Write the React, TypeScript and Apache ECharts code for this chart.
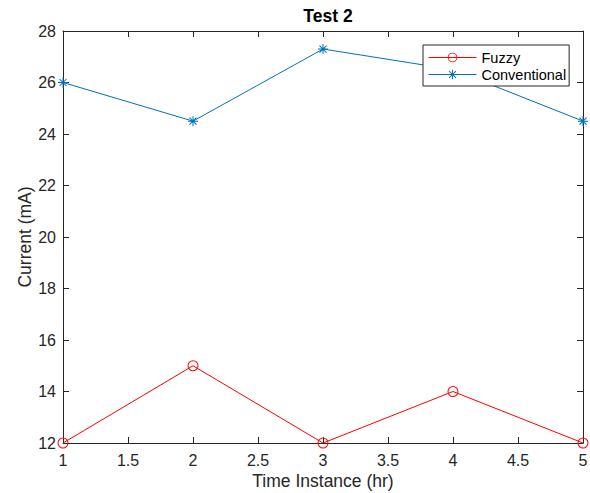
import React, { useEffect, useRef } from "react";
import * as echarts from "echarts";

const timeInstances = [1, 2, 3, 4, 5];
const fuzzyCurrent = [12, 15, 12, 14, 12];
const conventionalCurrent = [26, 24.5, 27.3, 26.5, 24.5];
const seriesNames = ["Fuzzy", "Conventional"];
const chartTitle = "Test 2";
const xName = "Time Instance (hr)";
const yName = "Current (mA)";

const FONT = "'Liberation Sans', Arial, Helvetica, sans-serif";
const AX = "#262626";

const ringPath =
  "path://M0,5A5,5 0 1,1 10,5A5,5 0 1,1 0,5ZM0.9,5A4.1,4.1 0 1,0 9.1,5A4.1,4.1 0 1,0 0.9,5Z";
const starPath =
  "path://M4.5,0L5.5,0L5.5,10L4.5,10ZM0,4.5L10,4.5L10,5.5L0,5.5ZM1.85,1.15L8.85,8.15L8.15,8.85L1.15,1.85ZM1.15,8.15L8.15,1.15L8.85,1.85L1.85,8.85Z";

export default function App() {
  const ref = useRef<HTMLDivElement>(null);
  useEffect(() => {
    if (!ref.current) return;
    const chart = echarts.init(ref.current, undefined, { renderer: "svg" });
    const axisCommon = {
      type: "value" as const,
      axisLine: { show: true, onZero: false, lineStyle: { color: AX, width: 1 } },
      axisTick: { show: true, inside: true, length: 6, lineStyle: { color: AX, width: 1 } },
      splitLine: { show: false },
    };
    chart.setOption({
      animation: false,
      backgroundColor: "#ffffff",
      title: {
        text: chartTitle,
        left: 323,
        top: 2,
        textAlign: "center",
        textStyle: { fontFamily: FONT, fontSize: 17.5, fontWeight: "bold", color: "#000" },
      },
      grid: { left: 63, right: 7, top: 31, bottom: 50, containLabel: false, outerBoundsMode: "none" },
      legend: {
        data: seriesNames,
        orient: "vertical",
        left: 423,
        top: 45,
        padding: [4, 3, 3, 5],
        itemWidth: 48,
        itemHeight: 12,
        itemGap: 0,
        backgroundColor: "#ffffff",
        borderColor: AX,
        borderWidth: 1,
        borderRadius: 0,
        lineStyle: { width: 1 },
        textStyle: { fontFamily: FONT, fontSize: 14.5, color: "#000", lineHeight: 17 },
      },
      xAxis: [
        {
          ...axisCommon,
          position: "bottom",
          min: 1,
          max: 5,
          interval: 0.5,
          name: xName,
          nameLocation: "middle",
          nameGap: 29,
          nameMoveOverlap: false,
          nameTextStyle: { fontFamily: FONT, fontSize: 17.5, color: AX },
          axisLabel: { fontFamily: FONT, fontSize: 16, color: AX, margin: 9 },
        },
        {
          ...axisCommon,
          position: "top",
          min: 1,
          max: 5,
          interval: 0.5,
          axisLabel: { show: false },
        },
      ],
      yAxis: [
        {
          ...axisCommon,
          position: "left",
          min: 12,
          max: 28,
          interval: 2,
          name: yName,
          nameLocation: "middle",
          nameRotate: 90,
          nameGap: 29,
          nameMoveOverlap: false,
          nameTextStyle: { fontFamily: FONT, fontSize: 17.5, color: AX },
          axisLabel: { fontFamily: FONT, fontSize: 16, color: AX, margin: 7 },
        },
        {
          ...axisCommon,
          position: "right",
          min: 12,
          max: 28,
          interval: 2,
          axisLabel: { show: false },
        },
      ],
      series: [
        {
          name: seriesNames[0],
          type: "line",
          data: timeInstances.map((t, i) => [t, fuzzyCurrent[i]]),
          symbol: ringPath,
          symbolSize: 11,
          clip: false,
          color: "#ff0000",
          lineStyle: { color: "#ff0000", width: 1 },
          itemStyle: { color: "#ff0000" },
          emphasis: { disabled: true },
          z: 3,
        },
        {
          name: seriesNames[1],
          type: "line",
          data: timeInstances.map((t, i) => [t, conventionalCurrent[i]]),
          symbol: starPath,
          symbolSize: 10,
          clip: false,
          color: "#0072BD",
          lineStyle: { color: "#0072BD", width: 1 },
          itemStyle: { color: "#0072BD" },
          emphasis: { disabled: true },
          z: 2,
        },
      ],
    });
    return () => chart.dispose();
  }, []);
  return <div ref={ref} style={{ width: 590, height: 493, position: "absolute", left: 0, top: 0 }} />;
}
